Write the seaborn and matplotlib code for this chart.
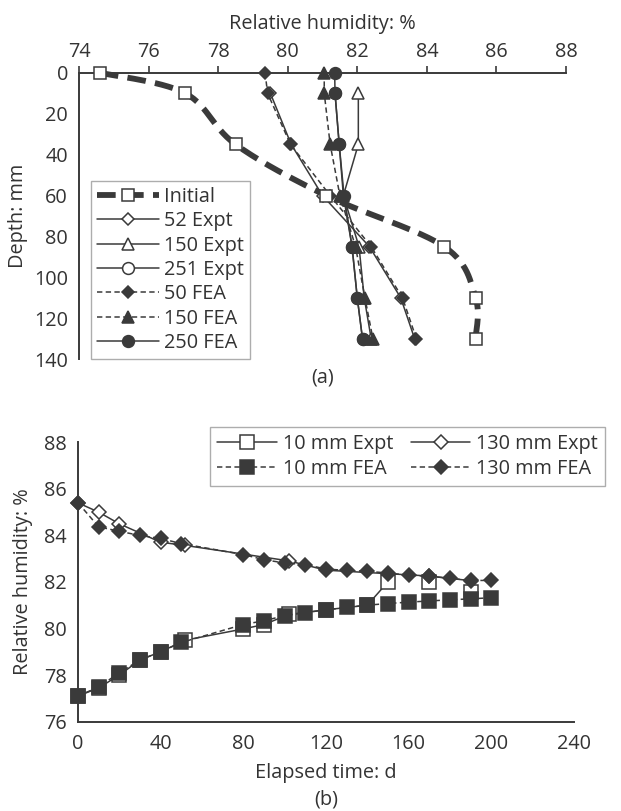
import numpy as np
import matplotlib
matplotlib.use("Agg")
import matplotlib.pyplot as plt
import seaborn as sns
from matplotlib.lines import Line2D

# ---------------- data: panel (a) ----------------
depth = [0, 10, 35, 60, 85, 110, 130]
depth_expt = [10, 35, 60, 85, 110, 130]
rh_initial = [74.6, 77.05, 78.5, 81.1, 84.5, 85.4, 85.4]
rh_52_expt = [79.5, 80.1, 81.0, 82.35, 83.25, 83.65]
rh_150_expt = [82.03, 82.03, 81.6, 82.05, 82.2, 82.4]
rh_251_expt = [81.36, 81.48, 81.6, 81.85, 82.0, 82.15]
rh_50_fea = [79.35, 79.42, 80.08, 81.22, 82.4, 83.3, 83.7]
rh_150_fea = [81.05, 81.05, 81.22, 81.5, 81.95, 82.22, 82.45]
rh_250_fea = [81.35, 81.36, 81.48, 81.62, 81.85, 82.0, 82.15]
xticks_a = [74, 76, 78, 80, 82, 84, 86, 88]
yticks_a = [0, 20, 40, 60, 80, 100, 120, 140]

# ---------------- data: panel (b) ----------------
days_fea = [0, 10, 20, 30, 40, 50, 80, 90, 100, 110, 120, 130, 140, 150, 160, 170, 180, 190, 200]
rh_10_fea = [77.1, 77.49, 78.1, 78.65, 79.0, 79.4, 80.17, 80.33, 80.55, 80.68, 80.8, 80.9, 81.0,
             81.07, 81.13, 81.18, 81.23, 81.27, 81.32]
rh_130_fea = [85.39, 84.36, 84.17, 83.99, 83.86, 83.64, 83.17, 82.95, 82.81, 82.74, 82.55, 82.49,
              82.45, 82.38, 82.28, 82.24, 82.15, 82.06, 82.06]
days_10_expt = [0, 10, 20, 30, 40, 52, 80, 90, 102, 120, 140, 150, 170, 190]
rh_10_expt = [77.1, 77.45, 78.0, 78.65, 79.0, 79.5, 79.98, 80.17, 80.6, 80.8, 81.0, 82.0, 82.0, 81.55]
run_10_expt = [0, 0, 0, 0, 0, 0, 0, 0, 0, 0, 0, 0, 1, 2]   # connected runs (gaps between)
days_130_expt = [0, 10, 20, 40, 52, 102, 120, 150, 170, 190]
rh_130_expt = [85.39, 84.99, 84.49, 83.7, 83.56, 82.9, 82.5, 82.35, 82.25, 82.05]
xticks_b = [0, 40, 80, 120, 160, 200, 240]
yticks_b = [76, 78, 80, 82, 84, 86, 88]

# ---------------- style ----------------
sns.set_style("white")
plt.rcParams['font.family'] = ['Open Sans', 'DejaVu Sans']
FS = 14.3
DARK = '#3a3a3a'
TXT = '#333333'
plt.rcParams.update({
    'font.size': FS,
    'text.color': TXT,
    'axes.labelcolor': TXT,
    'xtick.color': DARK,
    'ytick.color': DARK,
    'xtick.labelcolor': TXT,
    'ytick.labelcolor': TXT,
    'axes.edgecolor': DARK,
})

W, H = 621, 811
fig = plt.figure(figsize=(W / 100, H / 100), dpi=100)


def fb(l, t, r, b):
    return [l / W, 1 - b / H, (r - l) / W, (b - t) / H]


ax1 = fig.add_axes(fb(79, 72.7, 566, 359.3))
ax2 = fig.add_axes(fb(78, 442, 574, 721.7))

LW = 1.1
DASH = (0, (3.5, 2.2))


def smooth(xs, ys, sx, sy, n=30):
    """Catmull-Rom path (Excel-like smoothed line) in screen-proportional units."""
    P = np.column_stack([np.asarray(xs) * sx, np.asarray(ys) * sy])
    P = np.vstack([P[0], P, P[-1]])
    out = []
    for i in range(1, len(P) - 2):
        p0, p1, p2, p3 = P[i - 1], P[i], P[i + 1], P[i + 2]
        t = np.linspace(0, 1, n)[:, None]
        seg = 0.5 * ((2 * p1) + (-p0 + p2) * t + (2 * p0 - 5 * p1 + 4 * p2 - p3) * t ** 2 +
                     (-p0 + 3 * p1 - 3 * p2 + p3) * t ** 3)
        out.append(seg)
    out = np.vstack(out)
    return out[:, 0] / sx, out[:, 1] / sy


def series(ax, x, y, marker, filled, ls, ms, z=3, lw=LW, units=None):
    sns.lineplot(x=x, y=y, ax=ax, sort=False, estimator=None, units=units, color=DARK,
                 linestyle=ls, linewidth=lw, marker=marker, markersize=ms,
                 markerfacecolor=DARK if filled else 'white',
                 markeredgecolor=DARK, markeredgewidth=1.1,
                 zorder=z, clip_on=False, legend=False)


# ---------- panel (a) ----------
sx, sy = 34.76, 2.05
cx, cy = smooth(rh_initial, depth, sx, sy)
sns.lineplot(x=cx, y=cy, ax=ax1, sort=False, estimator=None, color=DARK, linewidth=4.2,
             linestyle=(0, (3.2, 1.6)), zorder=2, clip_on=False, legend=False)
sns.lineplot(x=rh_initial, y=depth, ax=ax1, sort=False, estimator=None, color=DARK,
             linestyle='none', marker='s', markersize=8.5, markerfacecolor='white',
             markeredgecolor=DARK, markeredgewidth=1.1, zorder=6, clip_on=False, legend=False)

series(ax1, rh_52_expt, depth_expt, 'D', False, '-', 6.5, z=3)
series(ax1, rh_150_expt, depth_expt, '^', False, '-', 8.5, z=3)
series(ax1, rh_251_expt, depth_expt, 'o', False, '-', 8.5, z=3)
series(ax1, rh_50_fea, depth, 'D', True, DASH, 6.5, z=4)
series(ax1, rh_150_fea, depth, '^', True, DASH, 8.5, z=4)
series(ax1, rh_250_fea, depth, 'o', True, '-', 8.5, z=5)

ax1.set_xlim(74, 88)
ax1.set_ylim(140, 0)
ax1.set_xticks(xticks_a)
ax1.set_yticks(yticks_a)
ax1.xaxis.tick_top()
ax1.xaxis.set_label_position('top')
ax1.set_xlabel('Relative humidity: %', fontsize=FS, labelpad=9)
ax1.set_ylabel('Depth: mm', fontsize=FS, labelpad=4)
for s in ['right', 'bottom']:
    ax1.spines[s].set_visible(False)
for s in ['left', 'top']:
    ax1.spines[s].set_linewidth(1.4)
ax1.tick_params(axis='both', direction='out', length=5, width=1.2, labelsize=FS, pad=3)
ax1.tick_params(axis='x', top=True, bottom=False)

h_init = Line2D([], [], color=DARK, linewidth=4.2, linestyle=(0, (3.2, 1.6)), marker='s',
                markersize=8.5, markerfacecolor='white', markeredgecolor=DARK, markeredgewidth=1.1)


def proxy(m, filled, ls, ms):
    return Line2D([], [], color=DARK, linewidth=LW, linestyle=ls, marker=m, markersize=ms,
                  markerfacecolor=DARK if filled else 'white', markeredgecolor=DARK,
                  markeredgewidth=1.1)


handles_a = [h_init, proxy('D', False, '-', 6.5), proxy('^', False, '-', 8.5),
             proxy('o', False, '-', 8.5), proxy('D', True, DASH, 6.5),
             proxy('^', True, DASH, 8.5), proxy('o', True, '-', 8.5)]
labels_a = ['Initial', '52 Expt', '150 Expt', '251 Expt', '50 FEA', '150 FEA', '250 FEA']
leg1 = ax1.legend(handles_a, labels_a, loc='lower left', bbox_to_anchor=(91 / W, 1 - 359 / H),
                  bbox_transform=fig.transFigure, fontsize=FS, frameon=True, fancybox=False,
                  edgecolor='#999999', handlelength=3.1, handletextpad=0.3, labelspacing=0.22,
                  borderpad=0.3, borderaxespad=0)
leg1.get_frame().set_linewidth(1.0)

fig.text((79 + 566) / 2 / W, 1 - 378 / H, '(a)', ha='center', va='center', fontsize=FS, color=TXT)

# ---------- panel (b) ----------
series(ax2, days_10_expt, rh_10_expt, 's', False, '-', 9.5, z=3, units=run_10_expt)
series(ax2, days_130_expt, rh_130_expt, 'D', False, '-', 7.5, z=3)
series(ax2, days_fea, rh_10_fea, 's', True, DASH, 9.5, z=4)
series(ax2, days_fea, rh_130_fea, 'D', True, DASH, 7.5, z=4)

ax2.set_xlim(0, 240)
ax2.set_ylim(76, 88)
ax2.set_xticks(xticks_b)
ax2.set_yticks(yticks_b)
ax2.set_xlabel('Elapsed time: d', fontsize=FS, labelpad=6)
ax2.set_ylabel('Relative humidity: %', fontsize=FS, labelpad=8)
for s in ['right', 'top']:
    ax2.spines[s].set_visible(False)
for s in ['left', 'bottom']:
    ax2.spines[s].set_linewidth(1.4)
ax2.tick_params(axis='both', direction='out', length=5, width=1.2, labelsize=FS, pad=3)
ax2.tick_params(axis='x', pad=4)

handles_b = [proxy('s', False, '-', 9.5), proxy('s', True, DASH, 9.5),
             proxy('D', False, '-', 7.5), proxy('D', True, DASH, 7.5)]
labels_b = ['10 mm Expt', '10 mm FEA', '130 mm Expt', '130 mm FEA']
leg2 = ax2.legend(handles_b, labels_b, ncol=2, loc='upper right',
                  bbox_to_anchor=(605 / W, 1 - 427 / H), bbox_transform=fig.transFigure,
                  fontsize=FS, frameon=True, fancybox=False, edgecolor='#999999',
                  handlelength=3.0, handletextpad=0.3, labelspacing=0.25, columnspacing=0.9,
                  borderpad=0.35, borderaxespad=0)
leg2.get_frame().set_linewidth(1.0)

fig.text((78 + 574) / 2 / W, 1 - 800 / H, '(b)', ha='center', va='center', fontsize=FS, color=TXT)

fig.savefig('out.png', dpi=100)
